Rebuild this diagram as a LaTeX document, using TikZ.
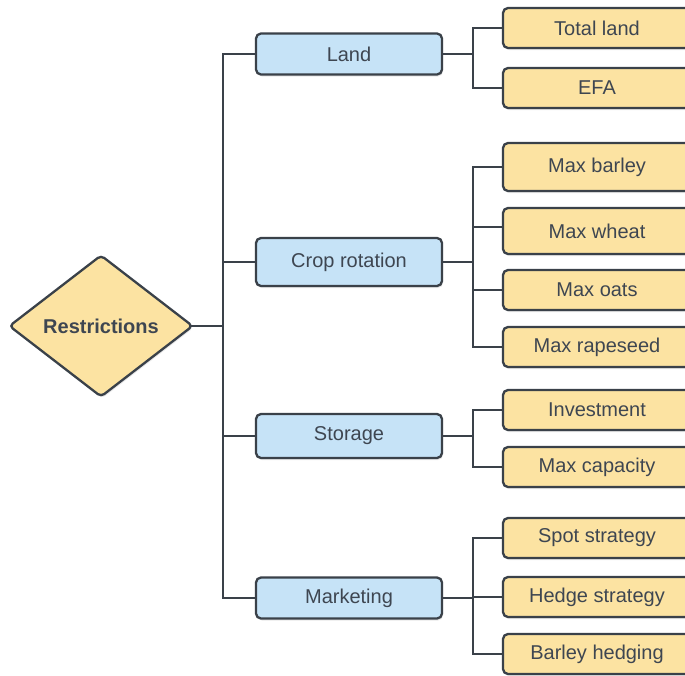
\documentclass[tikz,border=0pt]{standalone}
\usepackage{fontspec}
\setmainfont{Liberation Sans}
\usetikzlibrary{shapes.geometric,shadows}
\definecolor{rimgray}{HTML}{3A4149}
\definecolor{textgray}{HTML}{3E4651}
\definecolor{groupblue}{HTML}{C6E3F7}
\definecolor{leafyellow}{HTML}{FCE3A2}
\tikzset{
  box/.style={draw=rimgray, line width=2.3pt, rounded corners=5pt, text=textgray,
    font=\fontsize{20}{24}\selectfont, inner sep=0pt,
    drop shadow={opacity=0.18, shadow xshift=1pt, shadow yshift=-2pt}},
  group/.style={box, fill=groupblue, minimum width=186pt, minimum height=41pt},
  leaf/.style={box, fill=leafyellow, minimum width=188pt, minimum height=40pt},
  restr/.style={diamond, draw=rimgray, line width=2.3pt, rounded corners=4pt,
    fill=leafyellow, text=textgray, font=\fontsize{20}{24}\selectfont\bfseries,
    minimum width=184pt, minimum height=142pt, inner sep=0pt,
    drop shadow={opacity=0.18, shadow xshift=1pt, shadow yshift=-2pt}},
  link/.style={draw=rimgray, line width=2.3pt}
}
\begin{document}
\begin{tikzpicture}[x=1pt, y=-1pt]
  \useasboundingbox (0,0) rectangle (685,675);
  \draw
    (101,326) node[restr] (restr){Restrictions}
    (349,54) node[group] (land){Land}
    (349,262) node[group, minimum height=48pt] (crop){Crop rotation}
    (349,436) node[group, minimum height=44pt] (storage){Storage}
    (349,598) node[group] (marketing){Marketing}
    (597,28) node[leaf] (total){Total land}
    (597,88) node[leaf] (efa){EFA}
    (597,167) node[leaf, minimum height=48pt] (barley){Max barley}
    (597,231) node[leaf, minimum height=46pt] (wheat){Max wheat}
    (597,290) node[leaf] (oats){Max oats}
    (597,347) node[leaf] (rapeseed){Max rapeseed}
    (597,410) node[leaf] (invest){Investment}
    (597,467) node[leaf] (capacity){Max capacity}
    (597,538) node[leaf] (spot){Spot strategy}
    (597,597) node[leaf] (hedge){Hedge strategy}
    (597,654) node[leaf] (bhedge){Barley hedging};
  \coordinate (trunk) at (223,326);
  \coordinate (landfork) at (473,54);
  \coordinate (cropfork) at (473,262);
  \coordinate (storagefork) at (473,436);
  \coordinate (marketfork) at (473,598);
  \begin{scope}[link]
    \draw ([xshift=-3pt]restr.east) -- (trunk);
    \draw (trunk) |- (land);
    \draw (trunk) |- (crop);
    \draw (trunk) |- (storage);
    \draw (trunk) |- (marketing);
    \draw (land) -- (landfork);
    \draw (landfork) |- (total);
    \draw (landfork) |- (efa);
    \draw (crop) -- (cropfork);
    \draw (cropfork) |- (barley);
    \draw (cropfork) |- ([yshift=4pt]wheat.west);
    \draw (cropfork) |- (oats);
    \draw (cropfork) |- (rapeseed);
    \draw (storage) -- (storagefork);
    \draw (storagefork) |- (invest);
    \draw (storagefork) |- (capacity);
    \draw (marketing) -- (marketfork);
    \draw (marketfork) |- (spot);
    \draw (marketfork) |- (hedge);
    \draw (marketfork) |- (bhedge);
  \end{scope}
\end{tikzpicture}
\end{document}
